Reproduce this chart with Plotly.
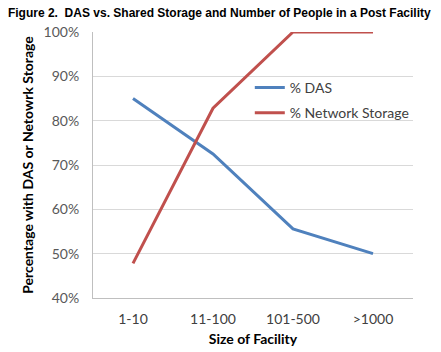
import plotly.graph_objects as go

categories = ["1-10", "11-100", "101-500", ">1000"]
das = [85.0, 72.5, 55.6, 50.0]
network = [47.8, 82.8, 100.0, 100.0]
y_ticks = [40, 50, 60, 70, 80, 90, 100]
y_tick_labels = [f"{v}%" for v in y_ticks]

font_main = "Lato, 'Open Sans', sans-serif"

fig = go.Figure()
fig.add_trace(go.Scatter(x=categories, y=das, mode="lines", name="% DAS", legendgroup="a",
                         line=dict(color="#4F81BD", width=3)))
fig.add_trace(go.Scatter(x=categories, y=network, mode="lines", name="% Network Storage", legendgroup="b",
                         line=dict(color="#C0504D", width=3)))

fig.update_layout(
    width=441, height=352,
    margin=dict(l=93, r=28, t=32, b=54),
    paper_bgcolor="white", plot_bgcolor="white",
    title=dict(text="<b>Figure 2.  DAS vs. Shared Storage and Number of People in a Post Facility</b>",
               x=0.018, xanchor="left", y=0.965, yanchor="middle",
               font=dict(family="Liberation Sans, Arial, sans-serif", size=12, color="black")),
    legend=dict(x=0.49, y=0.85, xanchor="left", yanchor="top",
                bgcolor="rgba(0,0,0,0)", font=dict(family=font_main, size=14, color="#404040"),
                itemwidth=30, tracegroupgap=4),
    showlegend=True,
)
fig.update_xaxes(
    automargin=False,
    showline=True, linecolor="#BFBFBF", linewidth=1, showgrid=False,
    ticks="", ticklabelstandoff=8, tickfont=dict(family=font_main, size=14, color="#404040"),
    title=dict(text="<b>Size of Facility</b>", font=dict(family=font_main, size=14, color="black"), standoff=8),
    range=[-0.5, 3.5],
)
fig.update_yaxes(
    automargin=False,
    range=[40, 100], tickvals=y_ticks, ticktext=y_tick_labels,
    showline=True, linecolor="#BFBFBF", linewidth=1,
    showgrid=True, gridcolor="#D9D9D9", gridwidth=1, zeroline=False,
    ticks="", ticklabelstandoff=10, tickfont=dict(family=font_main, size=14, color="#595959"),
    title=dict(text="<b>Percentage with DAS or Netowrk Storage</b>",
               font=dict(family=font_main, size=14, color="black"), standoff=6),
)

fig.write_html("out.html")
